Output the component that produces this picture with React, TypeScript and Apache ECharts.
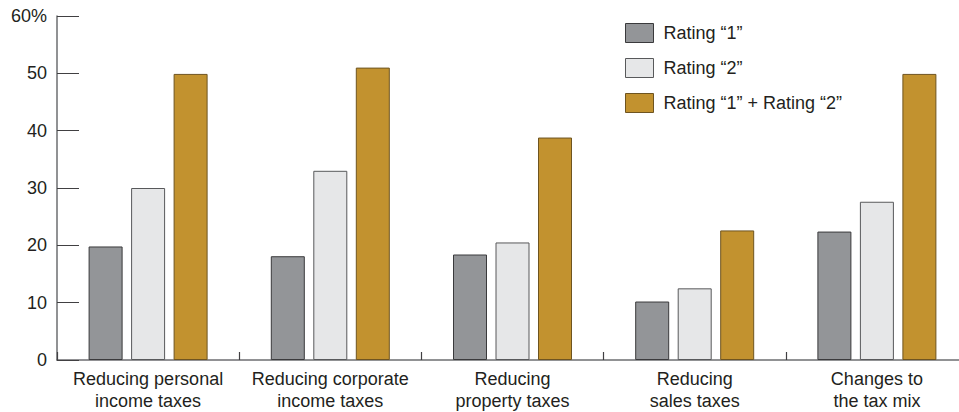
import React, { useEffect, useRef } from "react";
import * as echarts from "echarts";

const categories = [
  "Reducing personal\nincome taxes",
  "Reducing corporate\nincome taxes",
  "Reducing\nproperty taxes",
  "Reducing\nsales taxes",
  "Changes to\nthe tax mix",
];
const seriesNames = ["Rating \u201c1\u201d", "Rating \u201c2\u201d", "Rating \u201c1\u201d + Rating \u201c2\u201d"];
const rating1 = [19.8, 18.1, 18.4, 10.2, 22.4];
const rating2 = [30.0, 33.0, 20.5, 12.5, 27.6];
const ratingBoth = [49.9, 51.0, 38.8, 22.6, 49.9];
const yTicks = [0, 10, 20, 30, 40, 50, 60];

const fills = ["#939598", "#e6e7e8", "#c2922f"];
const borders = ["#3a3a3c", "#58595b", "#6e5420"];

export default function App() {
  const ref = useRef<HTMLDivElement>(null);
  useEffect(() => {
    if (!ref.current) return;
    const chart = echarts.init(ref.current, undefined, { renderer: "svg" });
    const font = "'Liberation Sans', Arial, sans-serif";
    const data = [rating1, rating2, ratingBoth];
    chart.setOption({
      animation: false,
      textStyle: { fontFamily: font },
      grid: { left: 57, top: 16, bottom: 50, right: 0, containLabel: false },
      legend: {
        orient: "vertical",
        left: 625,
        top: 23,
        padding: 0,
        icon: "rect",
        itemWidth: 28,
        itemHeight: 19,
        itemGap: 15,
        itemStyle: { borderWidth: 1 },
        textStyle: { fontSize: 18, color: "#231f20", fontFamily: font, padding: [0, 0, 0, 5] },
        data: seriesNames,
      },
      xAxis: {
        type: "category",
        data: categories,
        axisLine: { lineStyle: { color: "#6d6e71", width: 1.5 } },
        axisTick: { show: true, inside: true, length: 8, interval: 0, lineStyle: { color: "#414042", width: 1.2 } },
        axisLabel: { interval: 0, fontSize: 18, color: "#231f20", lineHeight: 22, margin: 8, fontFamily: font },
      },
      yAxis: {
        type: "value",
        min: yTicks[0],
        max: yTicks[yTicks.length - 1],
        interval: 10,
        splitLine: { show: false },
        axisLine: { show: true, lineStyle: { color: "#6d6e71", width: 1.5 } },
        axisTick: { show: true, inside: true, length: 22, lineStyle: { color: "#414042" } },
        axisLabel: {
          fontSize: 18,
          color: "#231f20",
          margin: 10,
          fontFamily: font,
          formatter: (v: number) => (v === 60 ? "60%" : String(v)),
        },
      },
      series: data.map((d, i) => ({
        name: seriesNames[i],
        type: "bar",
        data: d,
        barWidth: 34,
        barGap: "25%",
        itemStyle: { color: fills[i], borderColor: borders[i], borderWidth: 1 },
      })),
    });
    return () => chart.dispose();
  }, []);
  return (
    <div
      style={{ position: "fixed", left: 0, top: 0, width: 959, height: 412, overflow: "hidden", background: "#fff" }}
    >
      <div ref={ref} style={{ width: 968, height: 412 }} />
    </div>
  );
}
